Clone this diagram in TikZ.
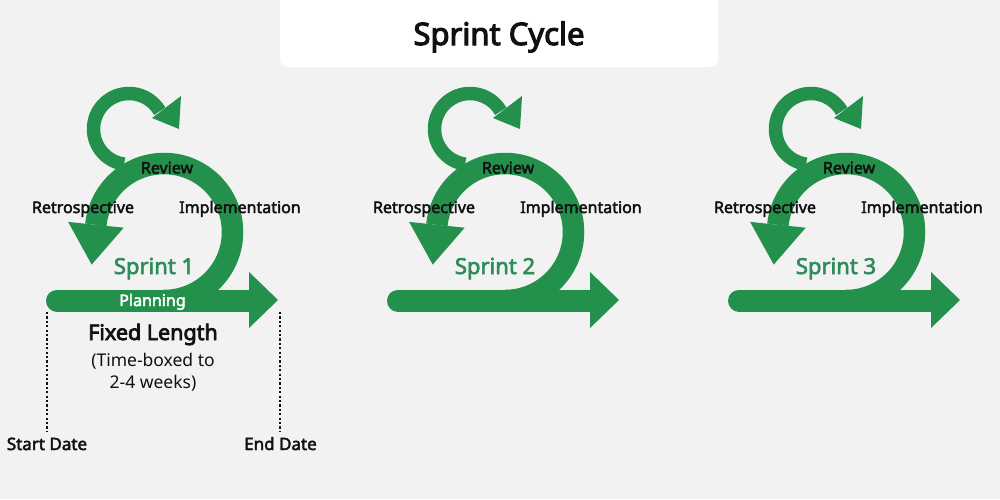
\documentclass[tikz,border=0pt]{standalone}
\usepackage{fontspec}
\setmainfont{Noto Sans}[BoldFont={Noto Sans},BoldFeatures={FakeBold=3.5}]
\newfontfamily\semib{Noto Sans}[FakeBold=2.7]
\newfontfamily\boldf{Noto Sans}[FakeBold=3.5]
\definecolor{bg}{HTML}{F2F2F2}
\definecolor{grn}{HTML}{23914B}
\definecolor{sgrn}{HTML}{2E8B5A}
\definecolor{ink}{HTML}{111111}
\begin{document}
\begin{tikzpicture}[x=1pt,y=-1pt,
  ring/.style={draw=grn,line width=21.5},
  loopband/.style={draw=grn,line width=13.5},
  shaft/.style={draw=grn,line width=22,line cap=round},
  headfill/.style={fill=grn},
  lbl/.style={anchor=base,text=ink,inner sep=0pt,font=\semib\fontsize{16}{19}\selectfont},
  sprintlbl/.style={anchor=base,text=sgrn,inner sep=0pt,font=\semib\fontsize{22}{26}\selectfont},
  planlbl/.style={anchor=base,text=white,inner sep=0pt,font=\semib\fontsize{16}{19}\selectfont},
  datelbl/.style={anchor=base,text=ink,inner sep=0pt,font=\semib\fontsize{17}{20}\selectfont},
  guide/.style={draw=ink,line width=1.3,dash pattern=on 2.2pt off 2.2pt}
]
\fill[bg] (0,0) rectangle (1000,499);
\useasboundingbox (0,0) rectangle (1000,499);
\fill[white,rounded corners=8] (280,-20) rectangle (718,67);
\node[anchor=base,inner sep=0pt,text=ink,font=\boldf\fontsize{31}{36}\selectfont] (title) at (499,45) {Sprint Cycle};

\foreach \i/\ox in {1/0,2/341,3/682}{
\begin{scope}[xshift=\ox pt]
  % big ring
  \draw[ring] (164,300.5) arc[start angle=90,end angle=-174,radius=68.5];
  \fill[headfill] (68.1,221.9) -- (91.7,264.6) -- (123.7,227.7) -- cycle;
  % small loop
  \draw[loopband] (129,129) ++(-262:35.5) arc[start angle=-262,end angle=-30,radius=35.5];
  \fill[headfill] (152,118) -- (181,96) -- (179,129) -- cycle;
  % shaft
  \draw[shaft] (57,300.5) -- (250,300.5);
  \fill[headfill] (249,272) -- (278,300) -- (249,328) -- cycle;
  % labels
  \node[lbl] (rev\i) at (167,173.5) {Review};
  \node[lbl] (retro\i) at (83,213) {Retrospective};
  \node[lbl] (impl\i) at (240,213) {Implementation};
  \node[sprintlbl] (sp\i) at (154,274) {Sprint \i};
\end{scope}
}

\node[planlbl] (plan) at (152.5,306) {Planning};
\node[anchor=base,inner sep=0pt,text=ink,font=\boldf\fontsize{21.5}{25}\selectfont] (fixed) at (153,340) {Fixed Length};
\node[anchor=base,inner sep=0pt,text=ink,font=\fontsize{17.5}{21}\selectfont] (tb1) at (153,366.7) {(Time-boxed to};
\node[anchor=base,inner sep=0pt,text=ink,font=\fontsize{17.5}{21}\selectfont] (tb2) at (153,388) {2-4 weeks)};
\node[datelbl] (start) at (47,450) {Start Date};
\node[datelbl] (end) at (280.5,450) {End Date};
\coordinate (starttop) at (47,312);
\coordinate (endtop) at (280,312);
\draw[guide] (starttop) -- (47,432);
\draw[guide] (endtop) -- (280,432);
\end{tikzpicture}
\end{document}
